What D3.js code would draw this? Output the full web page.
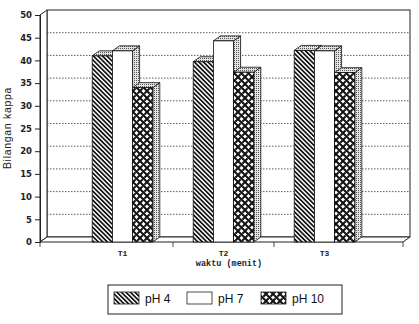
<!DOCTYPE html>
<html>
<head>
<meta charset="utf-8">
<script src="https://cdn.jsdelivr.net/npm/d3@7"></script>
<style>
  body { margin: 0; background: #fff; }
  svg { display: block; }
</style>
</head>
<body>
<div id="chart"></div>
<script>
// Data
const categories = ["T1", "T2", "T3"];
const seriesNames = ["pH 4", "pH 7", "pH 10"];
const ph4 = [41.0, 39.7, 42.2];
const ph7 = [42.1, 44.3, 42.1];
const ph10 = [34.0, 37.4, 37.3];
const yTicks = [0, 5, 10, 15, 20, 25, 30, 35, 40, 45, 50];

const seriesValues = [ph4, ph7, ph10];
const fills = ["url(#stripes)", "#fff", "url(#weave)"];

const W = 419, H = 324;
const plot = { left: 40, right: 403, top: 15, bottom: 242 };
const dx = 7, dy = -5; // 3D depth offset

const svg = d3.select("#chart").append("svg")
    .attr("width", W)
    .attr("height", H);

// Patterns
const defs = svg.append("defs");
const stripes = defs.append("pattern")
    .attr("id", "stripes")
    .attr("patternUnits", "userSpaceOnUse")
    .attr("width", 3.2).attr("height", 3.2)
    .attr("patternTransform", "rotate(-45)");
stripes.append("rect").attr("width", 3.2).attr("height", 3.2).attr("fill", "#fff");
stripes.append("rect").attr("width", 1.7).attr("height", 3.2).attr("fill", "#111");

const weave = defs.append("pattern")
    .attr("id", "weave")
    .attr("patternUnits", "userSpaceOnUse")
    .attr("width", 7).attr("height", 7);
weave.append("rect").attr("width", 7).attr("height", 7).attr("fill", "#fff");
weave.append("path")
    .attr("d", "M0,0 L7,7 M-1,6 L1,8 M6,-1 L8,1 M0,7 L2.5,4.5 M4.5,2.5 L7,0")
    .attr("stroke", "#111").attr("stroke-width", 2).attr("fill", "none");
weave.append("path")
    .attr("d", "M2.5,4.5 L4.5,2.5")
    .attr("stroke", "#111").attr("stroke-width", 1.2).attr("fill", "none");

const stipple = defs.append("pattern")
    .attr("id", "stipple")
    .attr("patternUnits", "userSpaceOnUse")
    .attr("width", 2).attr("height", 2);
stipple.append("rect").attr("width", 2).attr("height", 2).attr("fill", "#e4e4e4");
stipple.append("rect").attr("width", 1).attr("height", 1).attr("fill", "#555");

// Scales
const y = d3.scaleLinear().domain([0, 50]).range([plot.bottom, plot.top]);
const x = d3.scaleBand().domain(categories)
    .range([plot.left + 32, plot.right - 28])
    .paddingInner(0.4).paddingOuter(0.2);
const xs = d3.scaleBand().domain(seriesNames).range([0, x.bandwidth()]);

// Back wall
svg.append("rect")
    .attr("x", plot.left + dx).attr("y", plot.top + dy)
    .attr("width", plot.right - plot.left).attr("height", plot.bottom - plot.top)
    .attr("fill", "#fff").attr("stroke", "#222").attr("stroke-width", 1);

// Left wall
svg.append("path")
    .attr("d", `M${plot.left},${y(50)} L${plot.left + dx},${y(50) + dy} L${plot.left + dx},${plot.bottom + dy} L${plot.left},${plot.bottom} Z`)
    .attr("fill", "#fff").attr("stroke", "#222").attr("stroke-width", 1);

// Floor
svg.append("path")
    .attr("d", `M${plot.left},${plot.bottom} L${plot.left + dx},${plot.bottom + dy} L${plot.right + dx},${plot.bottom + dy} L${plot.right},${plot.bottom} Z`)
    .attr("fill", "#fff").attr("stroke", "#222").attr("stroke-width", 1);

// Gridlines on the back wall
svg.append("g").selectAll("line")
    .data(yTicks.filter(d => d > 0 && d < 50))
    .join("line")
    .attr("x1", plot.left + dx).attr("x2", plot.right + dx)
    .attr("y1", d => y(d) + dy).attr("y2", d => y(d) + dy)
    .attr("stroke", "#333").attr("stroke-width", 0.8)
    .attr("stroke-dasharray", "1.5,1.5");

// Y axis
const yAxis = svg.append("g")
    .attr("transform", `translate(${plot.left},0)`)
    .call(d3.axisLeft(y).tickValues(yTicks).tickSize(5).tickPadding(3));
yAxis.select(".domain").attr("stroke", "#222");
yAxis.selectAll(".tick line").attr("stroke", "#222");
yAxis.selectAll("text")
    .attr("font-family", "DejaVu Sans, sans-serif")
    .attr("font-size", 8.5)
    .attr("font-weight", "bold")
    .attr("fill", "#222");

// X axis ticks on the floor front edge: ends and category boundaries
const xTicks = [plot.left]
    .concat(categories.slice(1).map(c => x(c) - x.step() * x.paddingInner() / 2))
    .concat([plot.right]);
svg.append("g").selectAll("line")
    .data(xTicks)
    .join("line")
    .attr("x1", d => d).attr("x2", d => d)
    .attr("y1", plot.bottom).attr("y2", plot.bottom + 5)
    .attr("stroke", "#222").attr("stroke-width", 0.8);

svg.append("g").selectAll("text")
    .data(categories)
    .join("text")
    .attr("x", d => x(d) + x.bandwidth() / 2)
    .attr("y", 256)
    .attr("text-anchor", "middle")
    .attr("font-family", "Liberation Mono, monospace")
    .attr("font-size", 8)
    .attr("font-weight", "bold")
    .attr("fill", "#222")
    .text(d => d);

// Bars (3D)
categories.forEach((c, i) => {
    seriesNames.forEach((s, j) => {
        const v = seriesValues[j][i];
        const x0 = x(c) + xs(s);
        const w = xs.bandwidth();
        const yt = y(v);
        const g = svg.append("g");
        // side face
        g.append("path")
            .attr("d", `M${x0 + w},${yt} L${x0 + w + dx},${yt + dy} L${x0 + w + dx},${plot.bottom + dy} L${x0 + w},${plot.bottom} Z`)
            .attr("fill", "url(#stipple)").attr("stroke", "#111").attr("stroke-width", 0.8);
        // top face
        g.append("path")
            .attr("d", `M${x0},${yt} L${x0 + dx},${yt + dy} L${x0 + w + dx},${yt + dy} L${x0 + w},${yt} Z`)
            .attr("fill", "url(#stipple)").attr("stroke", "#111").attr("stroke-width", 0.8);
        // front face
        g.append("rect")
            .attr("x", x0).attr("y", yt)
            .attr("width", w).attr("height", plot.bottom - yt)
            .attr("fill", fills[j]).attr("stroke", "#111").attr("stroke-width", 0.8);
    });
});

// Axis titles
svg.append("text")
    .attr("x", 229)
    .attr("y", 266)
    .attr("text-anchor", "middle")
    .attr("font-family", "Liberation Mono, monospace")
    .attr("font-size", 8.5)
    .attr("font-weight", "bold")
    .attr("fill", "#222")
    .text("waktu (menit)");

svg.append("text")
    .attr("transform", `translate(11,128) rotate(-90)`)
    .attr("text-anchor", "middle")
    .attr("font-family", "Liberation Sans, Arial, sans-serif")
    .attr("font-size", 10.5)
    .attr("letter-spacing", 0.7)
    .attr("fill", "#222")
    .text("Bilangan kappa");

// Legend
const legend = svg.append("g");
legend.append("rect")
    .attr("x", 108).attr("y", 285)
    .attr("width", 234).attr("height", 29)
    .attr("fill", "#fff").attr("stroke", "#222").attr("stroke-width", 1);
const legendX = [114, 187, 261];
seriesNames.forEach((s, j) => {
    legend.append("rect")
        .attr("x", legendX[j]).attr("y", 292)
        .attr("width", 25).attr("height", 12)
        .attr("fill", fills[j]).attr("stroke", "#222").attr("stroke-width", 0.8);
    legend.append("text")
        .attr("x", legendX[j] + 31).attr("y", 302.5)
        .attr("font-family", "Liberation Sans, Arial, sans-serif")
        .attr("font-size", 12)
        .attr("fill", "#111")
        .text(s);
});
</script>
</body>
</html>
